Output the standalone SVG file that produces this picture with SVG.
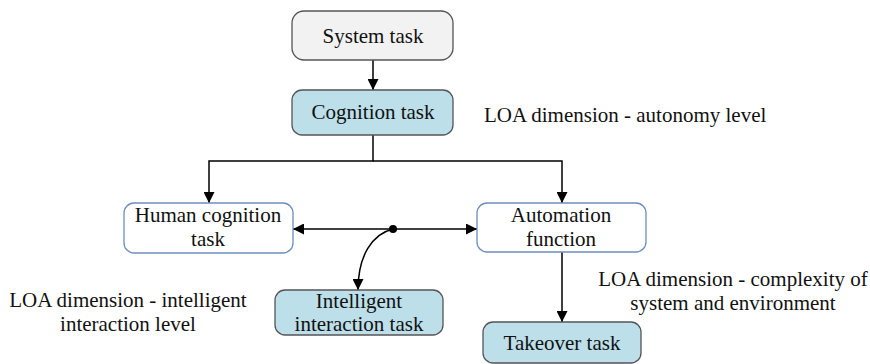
<svg xmlns="http://www.w3.org/2000/svg" width="870" height="364" viewBox="0 0 870 364">
<defs>
<marker id="ah" viewBox="0 0 10 10" refX="10" refY="5" markerWidth="11" markerHeight="11" markerUnits="userSpaceOnUse" orient="auto-start-reverse">
<path d="M0,0 L10,5 L0,10 z" fill="#000"/>
</marker>
</defs>
<style>
svg text, text.t{font-family:"Liberation Serif","Times New Roman",serif !important;font-size:21px;fill:#111}
.m{text-anchor:middle}
.gray{fill:#f2f2f2;stroke:#555;stroke-width:1.3}
.blue{fill:#bcdfe9;stroke:#555;stroke-width:1.3}
.white{fill:#fff;stroke:#6c8ebf;stroke-width:1.3}
.c{fill:none;stroke:#000;stroke-width:1.5}
</style>
<rect width="870" height="364" fill="#fff"/>
<g id="connectors">
<line class="c" x1="373" y1="60" x2="373" y2="90" marker-end="url(#ah)"/>
<polyline class="c" points="373,135 373,161 209,161 209,203" marker-end="url(#ah)"/>
<polyline class="c" points="373,161 562,161 562,203" marker-end="url(#ah)"/>
<line class="c" x1="293" y1="229" x2="477" y2="229" marker-start="url(#ah)" marker-end="url(#ah)"/>
<circle cx="393" cy="229" r="4" fill="#000"/>
<path class="c" d="M393,229 C372,234 358,256 358,290" marker-end="url(#ah)"/>
<line class="c" x1="562" y1="252" x2="562" y2="322" marker-end="url(#ah)"/>
</g>
<g id="system-task">
<rect class="gray" x="292" y="11" width="161" height="49" rx="12"/>
<text class="t m" x="373" y="43" font-family="Liberation Serif" style="font-family:'Liberation Serif',serif">System task</text>
</g>
<g id="cognition-task">
<rect class="blue" x="292" y="90" width="161" height="45" rx="10"/>
<text class="t m" x="373" y="119" font-family="Liberation Serif" style="font-family:'Liberation Serif',serif">Cognition task</text>
</g>
<g id="human-cognition-task">
<rect class="white" x="124" y="203" width="169" height="50" rx="10"/>
<text class="t m" x="208" y="222" font-family="Liberation Serif" style="font-family:'Liberation Serif',serif">Human cognition</text>
<text class="t m" x="208" y="246" font-family="Liberation Serif" style="font-family:'Liberation Serif',serif">task</text>
</g>
<g id="automation-function">
<rect class="white" x="477" y="203" width="169" height="49" rx="10"/>
<text class="t m" x="561" y="222" font-family="Liberation Serif" style="font-family:'Liberation Serif',serif">Automation</text>
<text class="t m" x="561" y="246" font-family="Liberation Serif" style="font-family:'Liberation Serif',serif">function</text>
</g>
<g id="intelligent-interaction-task">
<rect class="blue" x="275" y="290" width="168" height="45" rx="10"/>
<text class="t m" x="359" y="308" font-family="Liberation Serif" style="font-family:'Liberation Serif',serif">Intelligent</text>
<text class="t m" x="359" y="331" font-family="Liberation Serif" style="font-family:'Liberation Serif',serif">interaction task</text>
</g>
<g id="takeover-task">
<rect class="blue" x="483" y="322" width="158" height="41" rx="10"/>
<text class="t m" x="562" y="350" font-family="Liberation Serif" style="font-family:'Liberation Serif',serif">Takeover task</text>
</g>
<g id="labels">
<text class="t" x="484" y="122" font-family="Liberation Serif" style="font-family:'Liberation Serif',serif">LOA dimension - autonomy level</text>
<text class="t m" x="733" y="286" font-family="Liberation Serif" style="font-family:'Liberation Serif',serif">LOA dimension - complexity of</text>
<text class="t m" x="733" y="310" font-family="Liberation Serif" style="font-family:'Liberation Serif',serif">system and environment</text>
<text class="t m" x="128" y="307" font-family="Liberation Serif" style="font-family:'Liberation Serif',serif">LOA dimension - intelligent</text>
<text class="t m" x="128" y="331" font-family="Liberation Serif" style="font-family:'Liberation Serif',serif">interaction level</text>
</g>
</svg>
